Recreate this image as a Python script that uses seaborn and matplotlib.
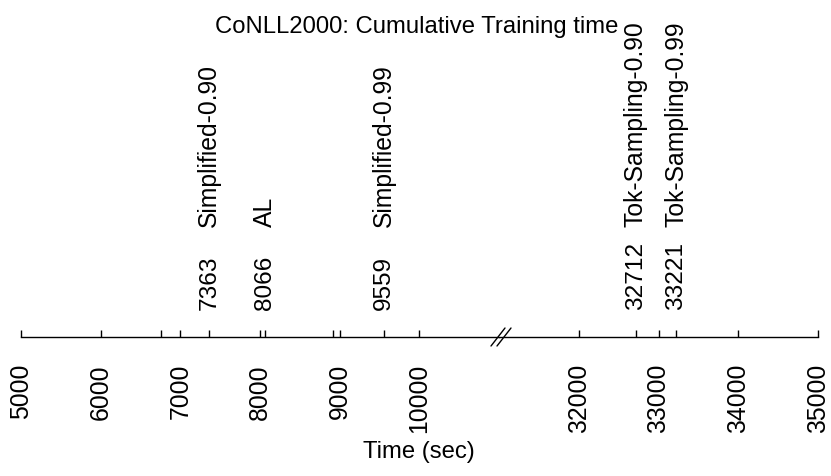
import matplotlib
matplotlib.use("Agg")
import matplotlib.pyplot as plt
import seaborn as sns
import pandas as pd

sns.set_theme(style="ticks")
plt.rcParams["font.family"] = ["Liberation Sans", "DejaVu Sans"]
plt.rcParams["font.size"] = 17
plt.rcParams["text.color"] = "black"
plt.rcParams["xtick.color"] = "black"
plt.rcParams["axes.edgecolor"] = "black"

# Cumulative training time per method (seconds)
methods = ["Simplified-0.90", "AL", "Simplified-0.99", "Tok-Sampling-0.90", "Tok-Sampling-0.99"]
times = [7363, 8066, 9559, 32712, 33221]
# further runs marked on the axis without a label
unlabeled_times = [6757, 8915]

low_ticks = [5000, 6000, 7000, 8000, 9000, 10000]
high_ticks = [32000, 33000, 34000, 35000]
low_range = (5000, 11000)
high_range = (31000, 35000)

df = pd.DataFrame({"time": times + unlabeled_times})

W, H = 831, 477
fig = plt.figure(figsize=(W / 100, H / 100), dpi=100)
fig.patch.set_facecolor("white")

x0, xb, x1 = 21, 499, 818
y_axis, y_top = 338, 20
bottom = 1 - y_axis / H
height = (y_axis - y_top) / H
ax1 = fig.add_axes([x0 / W, bottom, (xb - x0) / W, height])
ax2 = fig.add_axes([xb / W, bottom, (x1 - xb) / W, height])

rug_h = 7 / (y_axis - y_top)
for ax, lim, ticks in ((ax1, low_range, low_ticks), (ax2, high_range, high_ticks)):
    ax.set_facecolor("white")
    ax.set_xlim(*lim)
    ax.set_ylim(0, 1)
    sub = df[(df["time"] >= lim[0]) & (df["time"] <= lim[1])]
    sns.rugplot(data=sub, x="time", ax=ax, height=rug_h, color="black",
                lw=1.0, expand_margins=False, clip_on=False)
    ax.set_xticks(ticks)
    ax.set_xticklabels([str(t) for t in ticks], rotation=90)
    ax.tick_params(axis="x", direction="in", length=7 * 0.72, width=1.0,
                   pad=18.8, labelsize=17.8, colors="black")
    ax.set_yticks([])
    ax.set_xlabel("")
    ax.set_ylabel("")
    for side in ("top", "left", "right"):
        ax.spines[side].set_visible(False)
    ax.spines["bottom"].set_color("black")
    ax.spines["bottom"].set_linewidth(1.0)

    for name, t in zip(methods, times):
        if lim[0] <= t <= lim[1]:
            ax.annotate(str(t), xy=(t, 0), xycoords=("data", "axes fraction"),
                        xytext=(0, 20.2), textcoords="offset points",
                        rotation=90, ha="center", va="bottom", fontsize=17.6,
                        color="black")
            ax.annotate(name, xy=(t, 0), xycoords=("data", "axes fraction"),
                        xytext=(0, 79.9), textcoords="offset points",
                        rotation=90, ha="center", va="bottom", fontsize=17.8,
                        color="black")

# axis break marks
for cx in (498, 504):
    fig.add_artist(plt.Line2D([(cx - 7) / W, (cx + 7) / W],
                              [1 - (y_axis + 9) / H, 1 - (y_axis - 9) / H],
                              color="black", lw=1.0))

fig.text(416.5 / W, 1 - 33 / H, "CoNLL2000: Cumulative Training time",
         ha="center", va="baseline", fontsize=17.2, color="black")
fig.text(418.5 / W, 1 - 452 / H, "Time (sec)", ha="center", va="center",
         fontsize=17.2, color="black")

fig.savefig("out.png", dpi=100, facecolor="white")
